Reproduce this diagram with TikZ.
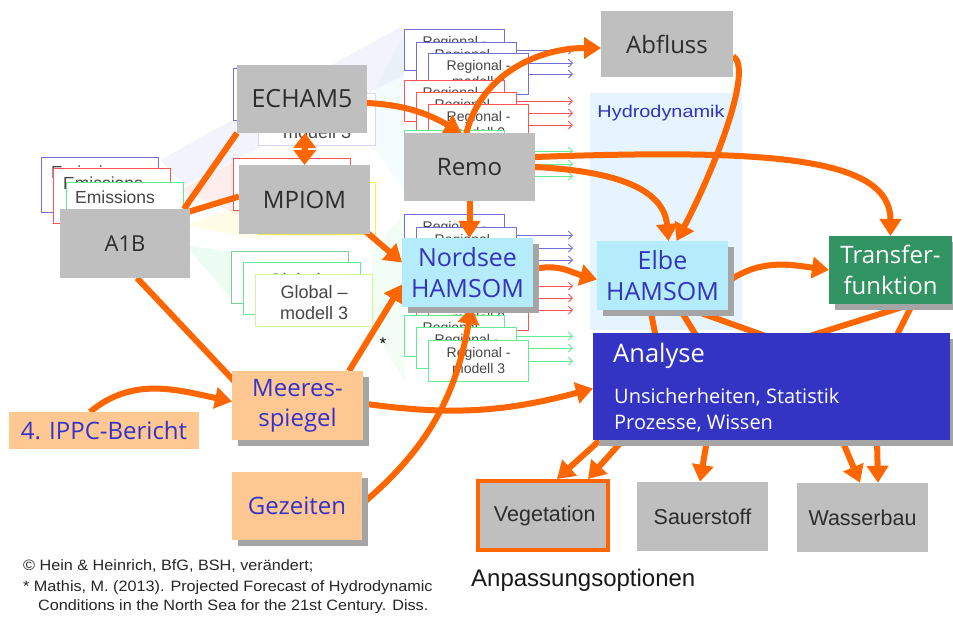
\documentclass[tikz,border=0pt]{standalone}
\usepackage{fontspec}
\setmainfont{Liberation Sans}
\newfontfamily\osans{Open Sans}
\usetikzlibrary{arrows.meta,shadows}
\pgfdeclarelayer{back}
\pgfdeclarelayer{thin}
\pgfdeclarelayer{frm}
\pgfdeclarelayer{arr}
\pgfsetlayers{back,thin,frm,arr,main}

\definecolor{og}{RGB}{255,102,0}
\definecolor{gbox}{RGB}{191,191,191}
\definecolor{gtext}{RGB}{45,45,45}
\definecolor{hcyan}{RGB}{180,236,252}
\definecolor{htext}{RGB}{51,51,187}
\definecolor{peach}{RGB}{255,199,145}
\definecolor{ptext}{RGB}{51,51,204}
\definecolor{anl}{RGB}{52,52,196}
\definecolor{tgreen}{RGB}{50,148,98}
\definecolor{hbg}{RGB}{229,244,254}
\definecolor{shd}{RGB}{165,165,165}
\definecolor{fblue}{RGB}{112,112,216}
\definecolor{fred}{RGB}{255,82,82}
\definecolor{fgreen}{RGB}{96,236,144}
\definecolor{flav}{RGB}{214,214,250}
\definecolor{fyel}{RGB}{255,238,60}
\definecolor{fglobA}{RGB}{122,206,150}
\definecolor{fglobC}{RGB}{204,250,150}
\definecolor{ftext}{RGB}{70,70,70}
\definecolor{fcyan}{RGB}{120,220,235}

\newcommand{\regframe}[4]{%
  \begin{pgfonlayer}{frm}
  \node[rframe, draw=#4] (#1) at (#2,#3) {};
  \node[rtext] (#1t) at ([yshift=-7pt]#1.north) {Regional -\\modell 3};
  \end{pgfonlayer}
  \begin{pgfonlayer}{thin}
  \draw[thinarr, #4] (#1.east) -- (#1.east -| rx);
  \end{pgfonlayer}}
\newcommand{\globframe}[4]{%
  \begin{pgfonlayer}{frm}
  \node[gframe, draw=#4] (#1) at (#2,#3) {};
  \node[gftext] (#1t) at ([yshift=-11pt]#1.north) {Global –\\modell 3};
  \end{pgfonlayer}}

\begin{document}
\begin{tikzpicture}[x=1pt,y=-1pt,
  box/.style={rectangle, inner sep=0pt, outer sep=0pt, align=center, font=\osans\fontsize{24}{30}\selectfont},
  greybox/.style={box, fill=gbox, text=gtext},
  shad/.style={general shadow={fill=shd, shadow xshift=6pt, shadow yshift=-6pt}},
  hambox/.style={box, shad, fill=hcyan, text=htext, font=\osans\fontsize{25}{31}\selectfont},
  peachbox/.style={box, fill=peach, text=ptext, font=\osans\fontsize{24}{30}\selectfont},
  optbox/.style={rectangle, inner sep=0pt, fill=gbox, text=gtext, font=\fontsize{21.5}{25}\selectfont},
  fnote/.style={anchor=west, inner sep=0pt, font=\fontsize{15}{18}\selectfont, text=black!85},
  oline/.style={draw=og, line width=6pt},
  oarrow/.style={oline, -{Triangle[length=17pt,width=21pt]}},
  odbl/.style={oline, {Triangle[length=15pt,width=22pt]}-{Triangle[length=15pt,width=22pt]}},
  thinarr/.style={line width=0.9pt, -{Straight Barb[length=4pt,width=8pt]}},
  rframe/.style={rectangle, anchor=north west, minimum width=100pt, minimum height=41pt, fill=white, line width=1.2pt, inner sep=0pt},
  rtext/.style={anchor=north, align=center, inner sep=0pt, text=ftext, font=\fontsize{14}{16.5}\selectfont},
  gframe/.style={rectangle, anchor=north west, minimum width=117pt, minimum height=52pt, fill=white, line width=1.3pt, inner sep=0pt},
  gftext/.style={anchor=north, align=center, inner sep=0pt, text=ftext, font=\fontsize{18}{21}\selectfont},
  eframe/.style={rectangle, anchor=north west, minimum width=117pt, minimum height=55pt, fill=white, line width=1.3pt, inner sep=0pt},
  etext/.style={anchor=north west, inner sep=0pt, text=ftext, font=\fontsize{17.5}{20}\selectfont}
]
\useasboundingbox (0,0) rectangle (953,617);
\coordinate (rx) at (573,0);

\begin{pgfonlayer}{back}
\fill[white] (0,0) rectangle (953,617);
\fill[fblue, opacity=0.08] (160,160) -- (404,25) -- (404,75) -- (185,185) -- cycle;
\fill[fred, opacity=0.10] (180,190) -- (240,158) -- (240,215) -- cycle;
\fill[fyel, opacity=0.12] (185,225) -- (260,200) -- (260,240) -- cycle;
\fill[fgreen, opacity=0.10] (185,245) -- (232,252) -- (232,300) -- cycle;
\fill[fcyan, opacity=0.07] (372,95) -- (404,35) -- (404,190) -- (372,145) -- cycle;
\fill[fgreen, opacity=0.08] (372,250) -- (404,215) -- (404,380) -- (372,327) -- cycle;
\fill[hbg] (590,93) rectangle (742,330);
\end{pgfonlayer}

% ---------- frames ----------
\begin{pgfonlayer}{frm}
\node[eframe, draw=fblue] (em1) at (41,157) {};
\node[etext] (em1t) at ([xshift=10pt,yshift=-9pt]em1.north west) {Emissions};
\node[eframe, draw=fred] (em2) at (53,168) {};
\node[etext] (em2t) at ([xshift=10pt,yshift=-9pt]em2.north west) {Emissions};
\node[eframe, draw=fgreen] (em3) at (66,182) {};
\node[etext] (em3t) at ([xshift=9pt,yshift=-9pt]em3.north west) {Emissions};
\end{pgfonlayer}

\globframe{ge1}{233}{68}{fblue}
\globframe{ge2}{258}{93}{flav}
\globframe{gm1}{233}{158}{fred}
\globframe{gm2}{258}{182}{fyel}
\globframe{gg1}{231}{251}{fglobA}
\globframe{gg2}{243}{262}{fgreen}
\globframe{gg3}{255}{274}{fglobC}

\regframe{rb1}{404}{29}{fblue}
\regframe{rb2}{416}{42}{fblue}
\regframe{rb3}{428}{53}{fblue}
\regframe{rr1}{404}{80}{fred}
\regframe{rr2}{416}{92}{fred}
\regframe{rr3}{428}{104}{fred}
\regframe{rg1}{404}{130}{fgreen}
\regframe{rg2}{416}{143}{fgreen}
\regframe{rg3}{428}{155}{fgreen}
\regframe{sb1}{404}{214}{fblue}
\regframe{sb2}{416}{227}{fblue}
\regframe{sb3}{428}{239}{fblue}
\regframe{sr1}{404}{265}{fred}
\regframe{sr2}{416}{277}{fred}
\regframe{sr3}{428}{289}{fred}
\regframe{sg1}{404}{315}{fgreen}
\regframe{sg2}{416}{327}{fgreen}
\regframe{sg3}{428}{340}{fgreen}

% ---------- main boxes ----------
\node[greybox, minimum width=130pt, minimum height=69pt, font=\osans\fontsize{22}{26}\selectfont] (a1b) at (125,243.5) {A1B};
\node[greybox, minimum width=130pt, minimum height=68pt, font=\osans\fontsize{25}{30}\selectfont] (echam) at (302,99) {ECHAM5};
\node[greybox, minimum width=131pt, minimum height=69pt] (mpiom) at (304.5,199.5) {MPIOM};
\node[greybox, minimum width=131pt, minimum height=68pt] (remo) at (469.5,167) {Remo};
\node[greybox, minimum width=132pt, minimum height=66pt] (abfluss) at (667,44) {Abfluss};
\node[hambox, minimum width=131pt, minimum height=69pt] (nordsee) at (467.5,272.5) {Nordsee\\HAMSOM};
\node[hambox, minimum width=131pt, minimum height=69pt] (elbe) at (662.5,275.5) {Elbe\\HAMSOM};
\node[box, shad, fill=tgreen, text=white, minimum width=123pt, minimum height=68pt, font=\osans\fontsize{24}{31}\selectfont] (transfer) at (890.5,270) {Transfer-\\funktion};
\node[box, shad, fill=anl, minimum width=357pt, minimum height=107pt] (analyse) at (771.5,386.5) {};
\node[anchor=west, inner sep=0pt, text=white, font=\osans\fontsize{25.5}{30}\selectfont] (anlt) at (613,356) {Analyse};
\node[anchor=west, inner sep=0pt, text=white, font=\osans\fontsize{20}{24}\selectfont] (anl1) at (614,397) {Unsicherheiten, Statistik};
\node[anchor=west, inner sep=0pt, text=white, font=\osans\fontsize{20}{24}\selectfont] (anl2) at (614,423) {Prozesse, Wissen};
\node[peachbox, shad, minimum width=131pt, minimum height=69pt] (meeres) at (297.5,405.5) {Meeres-\\spiegel};
\node[peachbox, shad, minimum width=130pt, minimum height=68pt] (gezeiten) at (297,506) {Gezeiten};
\node[peachbox, minimum width=190pt, minimum height=37pt] (ippc) at (104,430.5) {4. IPPC-Bericht};
\node[optbox, draw=og, line width=4pt, minimum width=130pt, minimum height=69pt] (vegetation) at (543,515.5) {\,Vegetation};
\node[optbox, minimum width=131pt, minimum height=69pt] (sauerstoff) at (702.5,516.5) {Sauerstoff};
\node[optbox, minimum width=131pt, minimum height=69pt] (wasserbau) at (862.5,517.5) {Wasserbau};

\node[anchor=base, inner sep=0pt, text=htext, font=\fontsize{17}{20}\selectfont] (hyd) at (661,117.5) {\scalebox{1.17}[1]{Hydrodynamik}};
\node[anchor=west, inner sep=0pt, font=\fontsize{24}{28}\selectfont, text=black!90] (anp) at (471,580) {Anpassungsoptionen};
\node[inner sep=0pt, font=\fontsize{17}{20}\selectfont] (star) at (383,344) {*};
\node[fnote] (fn1) at (23,566) {\scalebox{1.08}[1]{© Hein \& Heinrich, BfG, BSH, verändert;}};
\node[fnote] (fn2) at (23,588) {\scalebox{1.08}[1]{* Mathis, M. (2013). Projected Forecast of Hydrodynamic}};
\node[fnote] (fn3) at (38,607) {\scalebox{1.08}[1]{Conditions in the North Sea for the 21st Century. Diss.}};

% ---------- orange connectors ----------
\begin{pgfonlayer}{arr}
\draw[oline] ([xshift=-6pt]a1b.north east) -- (echam.south west);
\draw[oline] ([xshift=-2pt,yshift=-3pt]a1b.north east) -- ([yshift=3pt]mpiom.west);
\draw[oline] ([xshift=12pt]a1b.south) -- ([xshift=4pt,yshift=-12pt]meeres.north west);
\draw[oarrow] ([xshift=-14pt]ippc.north) to[out=40,in=168] ([yshift=4pt]meeres.west);
\draw[odbl] ([xshift=3pt]echam.south) -- (mpiom.north);
\draw[oarrow] ([yshift=-4pt]echam.east) to[out=-3,in=150] ([xshift=-8pt]remo.north);
\draw[oarrow] ([xshift=-4pt,yshift=-4pt]remo.north) to[out=78,in=180] ([yshift=-4pt]abfluss.west);
\draw[oarrow] (remo.south) -- (remo.south |- nordsee.north);
\draw[oarrow] ([xshift=-6pt,yshift=4pt]mpiom.south east) -- ([yshift=10pt]nordsee.west);
\draw[oarrow] ([xshift=-14pt]meeres.north east) -- ([yshift=-12pt]nordsee.west);
\draw[oarrow] ([yshift=2pt]gezeiten.east) to[out=40,in=-100] ([xshift=4pt]nordsee.south);
\draw[oarrow] ([yshift=3pt]nordsee.east) to[out=15,in=165] ([yshift=-4pt]elbe.west);
\draw[oarrow] (remo.east) to[out=-3,in=95] ([xshift=6pt]elbe.north);
\draw[oarrow] ([yshift=-12pt]abfluss.east) to[out=-30,in=62,out distance=25pt] ([xshift=14pt]elbe.north);
\draw[oarrow] ([yshift=10pt]remo.east) to[out=2,in=90,out distance=230pt,in distance=80pt] (transfer.north);
\draw[oarrow] ([yshift=-6pt]elbe.east) to[out=35,in=172] (transfer.west);
\draw[oline] ([xshift=-12pt]elbe.south) -- ([xshift=-115pt,yshift=-8pt]analyse.north);
\draw[oline] ([xshift=18pt]elbe.south) -- ([xshift=-72pt,yshift=-8pt]analyse.north);
\draw[oline] ([xshift=30pt]elbe.south) -- ([xshift=8pt,yshift=-8pt]analyse.north);
\draw[oline] ([xshift=21.5pt]transfer.south) -- ([xshift=22.5pt,yshift=-8pt]analyse.north);
\draw[oline] ([xshift=22pt]transfer.south) -- ([xshift=122.5pt,yshift=-8pt]analyse.north);
\draw[oarrow] ([yshift=2pt]meeres.east) to[out=-8,in=195] ([yshift=-2pt]analyse.west);
\draw[oarrow] ([xshift=-171.5pt]analyse.south) -- ([xshift=14pt]vegetation.north);
\draw[oarrow] ([xshift=-148.5pt]analyse.south) -- ([xshift=45pt]vegetation.north);
\draw[oarrow] ([xshift=-64.5pt]analyse.south) -- ([xshift=-2.5pt]sauerstoff.north);
\draw[oarrow] ([xshift=70.5pt]analyse.south) -- ([xshift=-2.5pt]wasserbau.north);
\draw[oarrow] ([xshift=105.5pt]analyse.south) -- ([xshift=15.5pt]wasserbau.north);
\end{pgfonlayer}
\end{tikzpicture}
\end{document}
